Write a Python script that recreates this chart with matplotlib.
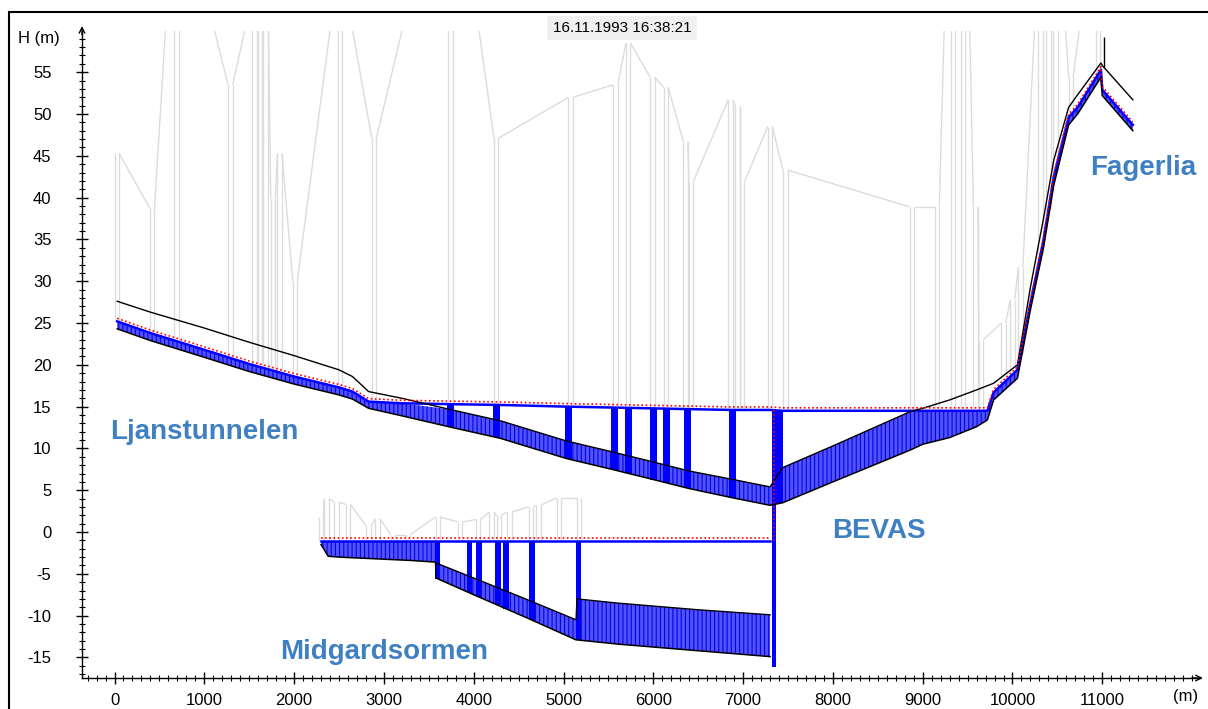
import numpy as np
import matplotlib
matplotlib.use("Agg")
import matplotlib.pyplot as plt
import matplotlib.transforms as mtransforms
from matplotlib.collections import LineCollection
from matplotlib.patches import Rectangle
from matplotlib.ticker import MultipleLocator

plt.rcParams['font.family'] = ['Liberation Sans', 'DejaVu Sans']
plt.rcParams['hatch.linewidth'] = 0.8
plt.rcParams['axes.unicode_minus'] = False

# -------------------------------------------------------------------------- #
#                                    data                                    #
# -------------------------------------------------------------------------- #
# upper line: Ljanstunnelen -> BEVAS -> Fagerlia  (chainage m, level m)
up_x = [30, 400, 1000, 1500, 2000, 2500, 2650, 2830, 3200, 3720, 4300, 5030, 5500, 5955, 6400, 6880, 7300,
        7440, 8000, 8860, 9000, 9300, 9600, 9720, 9790, 10055, 10200, 10345, 10460, 10625, 10725, 10985, 11000, 11340]
up_invert = [24.3, 22.9, 20.9, 19.2, 17.7, 16.4, 15.9, 14.8, 13.9, 12.6, 11.2, 8.8, 7.6, 6.4, 5.2, 4.1, 3.2,
             3.5, 6.0, 9.8, 10.5, 11.3, 12.6, 13.4, 15.8, 18.4, 26.6, 34.0, 41.5, 48.7, 50.0, 54.4, 52.2, 48.0]
up_crown = [27.6, 26.3, 24.4, 22.7, 21.1, 19.4, 18.6, 16.8, 16.0, 14.7, 13.3, 10.9, 9.7, 8.5, 7.3, 6.3, 5.4,
            7.7, 10.3, 14.4, 14.8, 15.8, 17.0, 17.5, 17.8, 20.0, 29.3, 37.5, 44.5, 50.8, 52.3, 56.1, 55.8, 51.7]
up_water = [25.2, 23.8, 21.8, 20.1, 18.6, 17.3, 16.8, 15.6, 15.4, 15.3, 15.2, 15.0, 14.9, 14.8, 14.7, 14.6, 14.6,
            14.5, 14.5, 14.5, 14.5, 14.5, 14.5, 14.5, 16.7, 19.4, 27.4, 34.9, 42.5, 49.6, 50.8, 55.3, 52.9, 48.7]

# lower line: Midgardsormen
lo_x = [2300, 2380, 2500, 2900, 3300, 3575, 3580, 4000, 4600, 5140, 5150, 5600, 6500, 7300]
lo_invert = [-1.5, -2.9, -3.0, -3.2, -3.4, -3.6, -5.5, -7.5, -10.3, -12.9, -12.9, -13.4, -14.2, -14.9]
lo_crown = [-1.1, -1.1, -1.1, -1.1, -1.1, -1.1, -3.7, -5.5, -8.1, -10.5, -8.0, -8.5, -9.3, -9.9]
lo_water = [-1.1, -1.1, -1.1, -1.1, -1.1, -1.1, -1.1, -1.1, -1.1, -1.1, -1.1, -1.1, -1.1, -1.1]

# manholes filled with water
up_shaft_x = [3740, 4250, 5060, 5570, 5720, 6000, 6150, 6380, 6880, 7400]
lo_shaft_x = [3600, 3950, 4060, 4270, 4360, 4650, 5170]

# BEVAS drop shaft
bevas_x = 7345
bevas_bottom = -16.2
spike_x, spike_top = 11020, 59.2

# manhole tops (ground level)
up_mh_x = [25, 420, 690, 1290, 1560, 1620, 1680, 1765, 1840, 2010, 2510, 2890, 3740, 4250, 5080, 5580, 5720,
           5990, 6140, 6360, 6420, 6860, 6940, 6990, 7300, 7470, 8880, 9160, 9340, 9450, 9590, 9650, 9900,
           10000, 10090, 10310, 10400, 10480, 10650, 10950]
up_mh_z = [45.3, 38.7, 77, 53.5, 64, 72, 68, 40, 45.3, 30, 67, 47.1, 83, 47.1, 52, 53.5, 58.5,
           54.4, 53.2, 46.7, 41.9, 51.7, 51.0, 41.9, 48.5, 43.3, 38.9, 38.9, 90, 85, 38.9, 23, 25,
           27.8, 31.7, 69, 75, 75, 54.4, 75]
lo_mh_x = [2300, 2360, 2470, 2600, 2830, 2930, 3100, 3270, 3600, 3850, 4050, 4200, 4280, 4400, 4640, 4720, 4950, 5170]
lo_mh_z = [1.8, 4.0, 3.6, 3.3, 0.7, 1.6, -0.3, -0.3, 1.8, 1.2, 1.5, 2.4, 2.0, 2.4, 3.0, 3.2, 4.1, 4.1]

labels = ["Ljanstunnelen", "Midgardsormen", "BEVAS", "Fagerlia"]
label_x = [-50, 1843, 7990, 10862]
label_z = [12.0, -14.4, 0.1, 43.5]

timestamp = "16.11.1993 16:38:21"


def manhole_segments(mx, mz, wx, wz, half=25):
    segs = []
    for i in range(len(mx)):
        bottom = np.interp(mx[i], wx, wz)
        segs.append([(mx[i] - half, mz[i]), (mx[i] - half, bottom)])
        segs.append([(mx[i] + half, mz[i]), (mx[i] + half, bottom)])
        if i < len(mx) - 1:
            segs.append([(mx[i] + half, mz[i]), (mx[i + 1] - half, mz[i + 1])])
    return segs


fig = plt.figure(figsize=(12.08, 7.09), dpi=100)
ax = fig.add_axes([82 / 1208, 31 / 709, 1118 / 1208, 647 / 709])
ax.set_xlim(-362, 12088)
ax.set_ylim(-17.46, 59.93)

# ground / manhole walls
gray = '#dcdcdc'
ax.add_collection(LineCollection(manhole_segments(up_mh_x, up_mh_z, up_x, up_water),
                                 colors=gray, linewidths=1.0, zorder=1))
ax.add_collection(LineCollection(manhole_segments(lo_mh_x, lo_mh_z, lo_x, lo_water),
                                 colors=gray, linewidths=1.0, zorder=1))

# water in pipes
for x, inv, crn, wl in [(up_x, up_invert, up_crown, up_water), (lo_x, lo_invert, lo_crown, lo_water)]:
    top = np.minimum(crn, wl)
    ax.fill_between(x, inv, top, facecolor='#5252ff', edgecolor='#0505dc', hatch='||||',
                    linewidth=0, zorder=2)

# water in manholes
ax.bar(up_shaft_x, np.interp(up_shaft_x, up_x, up_water) - np.interp(up_shaft_x, up_x, up_invert),
       bottom=np.interp(up_shaft_x, up_x, up_invert), width=80, color='#0000ff', zorder=3)
ax.bar(lo_shaft_x, np.interp(lo_shaft_x, lo_x, lo_water) - np.interp(lo_shaft_x, lo_x, lo_invert),
       bottom=np.interp(lo_shaft_x, lo_x, lo_invert), width=60, color='#0000ff', zorder=3)
bevas_top = np.interp(bevas_x, up_x, up_water)
ax.bar([bevas_x], [bevas_top - bevas_bottom], bottom=bevas_bottom, width=45, color='#0000ff', zorder=3)

# water surface
ax.plot(up_x, up_water, color='#0000ff', lw=1.8, zorder=3)
ax.plot(lo_x, lo_water, color='#0000ff', lw=1.8, zorder=3)

# pipe crown and invert
ax.plot(up_x, up_crown, color='black', lw=1, zorder=4)
ax.plot(up_x, up_invert, color='black', lw=1.1, zorder=4)
ax.plot(lo_x[6:], lo_crown[6:], color='black', lw=1, zorder=4)
ax.plot(lo_x, lo_invert, color='black', lw=1.1, zorder=4)
ax.vlines(spike_x, np.interp(spike_x, up_x, up_crown), spike_top, color='black', lw=1, zorder=4)

# hydraulic grade line
up3 = mtransforms.offset_copy(ax.transData, fig=fig, y=3, units='dots')
ax.plot(up_x, up_water, color='red', ls=(0, (1, 1.5)), lw=1.2, zorder=5, transform=up3)
ax.plot(lo_x, lo_water, color='red', ls=(0, (1, 1.5)), lw=1.2, zorder=5, transform=up3)
ax.plot([bevas_x, bevas_x], [bevas_top, lo_water[-1]], color='red', ls=(0, (1, 1.5)), lw=1.2, zorder=5)

for name, lx, lz in zip(labels, label_x, label_z):
    ax.text(lx, lz, name, color='#3f80c2', fontsize=20, fontweight='bold', ha='left', va='center', zorder=6)

# axes
for s in ['top', 'right']:
    ax.spines[s].set_visible(False)
for s in ['left', 'bottom']:
    ax.spines[s].set_linewidth(1.0)
ax.set_xticks(range(0, 11001, 1000))
ax.set_yticks(range(-15, 56, 5))
ax.xaxis.set_minor_locator(MultipleLocator(100))
ax.yaxis.set_minor_locator(MultipleLocator(1))
ax.tick_params(which='major', direction='inout', length=8, width=1, labelsize=12)
ax.tick_params(which='minor', direction='inout', length=5, width=0.8)
ax.tick_params(axis='y', which='major', pad=18)
ax.tick_params(axis='x', which='major', pad=7)
ax.annotate('', xy=(0, 1.012), xytext=(0, 0.99), xycoords='axes fraction',
            arrowprops=dict(arrowstyle='->', lw=1, color='black'), annotation_clip=False)
ax.annotate('', xy=(1.005, 0), xytext=(0.99, 0), xycoords='axes fraction',
            arrowprops=dict(arrowstyle='->', lw=1, color='black'), annotation_clip=False)

fig.text(18 / 1208, 1 - 38 / 709, 'H (m)', fontsize=12, ha='left', va='center')
fig.text(1173 / 1208, 1 - 697 / 709, '(m)', fontsize=12, ha='left', va='center')
fig.text(622 / 1208, 1 - 28 / 709, timestamp, fontsize=11, ha='center', va='center',
         bbox=dict(boxstyle='square,pad=0.35', fc='#f0f0f0', ec='none'))

fig.add_artist(Rectangle((9 / 1208, -0.1), 1.5, 1.1 - 12 / 709, transform=fig.transFigure,
                         fill=False, ec='black', lw=1.5))

fig.savefig('out.png', dpi=100)
